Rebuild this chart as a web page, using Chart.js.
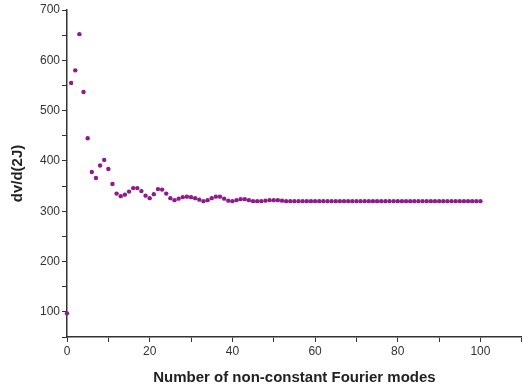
<!DOCTYPE html>
<html>
<head>
<meta charset="utf-8">
<script src="https://cdn.jsdelivr.net/npm/chart.js@4/dist/chart.umd.min.js"></script>
<style>
  html, body { margin: 0; padding: 0; background: #fff; }
  #wrap { width: 524px; height: 389px; }
</style>
</head>
<body>
<div id="wrap"><canvas id="chart"></canvas></div>
<script>
// dv/d(2J) for 0..100 non-constant Fourier modes
const dvValues = [
  97, 555, 580, 652, 537, 445, 378, 366, 391, 402,
  384, 354, 335, 330, 333, 339, 346, 346, 340, 331,
  326, 334, 344, 343, 335, 326, 322, 325, 328, 329,
  328, 326, 323, 320, 322, 326, 329, 329, 325, 321,
  320, 322, 324, 324, 322, 320, 320, 320, 321, 322,
  322, 322, 321, 320, 320, 320, 320, 320, 320, 320,
  320, 320, 320, 320, 320, 320, 320, 320, 320, 320,
  320, 320, 320, 320, 320, 320, 320, 320, 320, 320,
  320, 320, 320, 320, 320, 320, 320, 320, 320, 320,
  320, 320, 320, 320, 320, 320, 320, 320, 320, 320,
  320
];
const xLabels = [0, 20, 40, 60, 80, 100];
const yLabels = [100, 200, 300, 400, 500, 600, 700];

const axisColor = '#333';
const family = 'Liberation Sans, Arial, sans-serif';

new Chart(document.getElementById('chart'), {
  type: 'scatter',
  data: {
    datasets: [{
      data: dvValues.map((v, i) => ({ x: i, y: v })),
      backgroundColor: '#8e1a8e',
      borderColor: '#8e1a8e',
      pointRadius: 2.2,
      pointBorderWidth: 0,
      pointHoverRadius: 2.2
    }]
  },
  options: {
    responsive: true,
    maintainAspectRatio: false,
    animation: false,
    clip: false,
    layout: { padding: { top: 10, right: 0, left: 0, bottom: 0 } },
    plugins: { legend: { display: false }, tooltip: { enabled: false } },
    scales: {
      x: {
        type: 'linear',
        min: 0,
        max: 110,
        grid: { drawOnChartArea: false, tickLength: 5, tickColor: axisColor },
        border: { color: axisColor, width: 1.5 },
        ticks: {
          stepSize: 10,
          autoSkip: false,
          maxRotation: 0,
          color: axisColor,
          font: { family: family, size: 12 },
          padding: 2,
          callback: v => xLabels.includes(v) ? v : ''
        },
        title: {
          display: true,
          text: 'Number of non-constant Fourier modes',
          color: '#222',
          font: { family: family, size: 15, weight: 'bold' },
          padding: { top: 0, bottom: 2 }
        },
        afterFit: s => { s.height = 52; }
      },
      y: {
        min: 50,
        max: 700,
        grid: { drawOnChartArea: false, tickLength: 5, tickColor: axisColor },
        border: { color: axisColor, width: 1.5 },
        ticks: {
          stepSize: 50,
          autoSkip: false,
          color: axisColor,
          font: { family: family, size: 12 },
          padding: 2,
          callback: v => yLabels.includes(v) ? v : ''
        },
        title: {
          display: true,
          text: 'dv/d(2J)',
          color: '#222',
          font: { family: family, size: 15, weight: 'bold' },
          padding: { top: 9, bottom: 0 }
        },
        afterFit: s => { s.width = 67; }
      }
    }
  }
});
</script>
</body>
</html>
